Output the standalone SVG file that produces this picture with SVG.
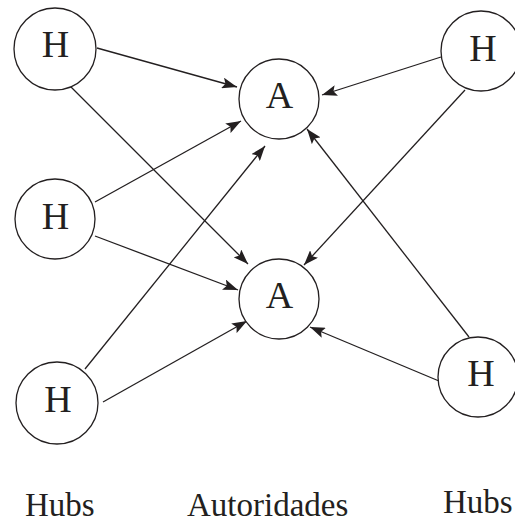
<svg xmlns="http://www.w3.org/2000/svg" width="515" height="523" viewBox="0 0 515 523">
<defs>
<style>
.node circle{fill:#fff;stroke:#231f20;stroke-width:1.3}
.node text{font-family:"Liberation Serif","Times New Roman",serif;font-size:38px;fill:#231f20;text-anchor:middle}
.lbl{font-family:"Liberation Serif","Times New Roman",serif;font-size:33px;fill:#231f20}
#edges line{stroke:#231f20;stroke-width:1.3;marker-end:url(#ah)}
</style>
<marker id="ah" viewBox="0 0 15 11" refX="15" refY="5.5" markerWidth="15" markerHeight="11" markerUnits="userSpaceOnUse" orient="auto">
<path d="M0,0 L15,5.5 L0,11 L3,5.5 Z" fill="#231f20"/>
</marker>
</defs>
<rect width="515" height="523" fill="#fff"/>
<g id="edges">
<line x1="97" y1="48" x2="237" y2="87"/>
<line x1="70" y1="86" x2="248" y2="264"/>
<line x1="95" y1="202" x2="241" y2="121"/>
<line x1="95" y1="236" x2="238" y2="290"/>
<line x1="85" y1="369" x2="265" y2="146"/>
<line x1="103" y1="402" x2="247" y2="321"/>
<line x1="441" y1="57" x2="322" y2="95"/>
<line x1="465" y1="90" x2="304" y2="265"/>
<line x1="469" y1="337" x2="307" y2="129"/>
<line x1="439" y1="381" x2="310" y2="327"/>
</g>
<g id="hub1" class="node"><circle cx="55" cy="49" r="41"/><text x="55.5" y="57">H</text></g>
<g id="hub2" class="node"><circle cx="55" cy="219" r="40"/><text x="55.5" y="229">H</text></g>
<g id="hub3" class="node"><circle cx="57" cy="403" r="41"/><text x="58" y="412">H</text></g>
<g id="auth1" class="node"><circle cx="279" cy="99" r="40"/><text x="279.5" y="108">A</text></g>
<g id="auth2" class="node"><circle cx="279" cy="299" r="40"/><text x="279.5" y="308">A</text></g>
<g id="hub4" class="node"><circle cx="481" cy="51" r="40"/><text x="483" y="61">H</text></g>
<g id="hub5" class="node"><circle cx="478" cy="377" r="40"/><text x="481" y="386">H</text></g>
<g id="labels">
<text class="lbl" x="25" y="516">Hubs</text>
<text class="lbl" x="187" y="516">Autoridades</text>
<text class="lbl" x="443" y="513">Hubs</text>
</g>
</svg>
